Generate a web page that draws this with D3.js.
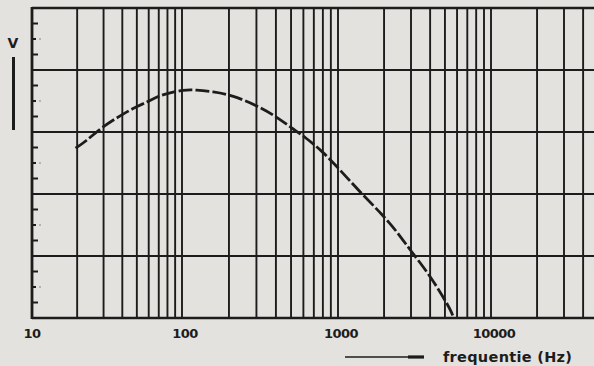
<!DOCTYPE html>
<html>
<head>
<meta charset="utf-8">
<script src="https://cdn.jsdelivr.net/npm/d3@7"></script>
<style>
  html, body { margin: 0; padding: 0; background: #e4e2de; }
  svg { display: block; }
  text { font-family: "DejaVu Sans", sans-serif; font-weight: bold; fill: #1c1c1c; }
</style>
</head>
<body>
<svg id="chart" width="594" height="366"></svg>
<script>
// Frequency response: output voltage against frequency (log axis)
const freqHz = [19.5, 22.6, 29.3, 39.2, 48.6, 58.4, 69.2, 83.2, 101.5, 123, 158, 206, 307, 406, 507, 614, 801, 1030, 1393, 1967, 2466, 2954, 3991, 5392, 5640];
const voltage = [2.74, 2.84, 3.08, 3.27, 3.40, 3.48, 3.58, 3.63, 3.68, 3.68, 3.65, 3.60, 3.42, 3.24, 3.06, 2.92, 2.68, 2.39, 2.03, 1.66, 1.37, 1.10, 0.69, 0.16, 0.03];

const decades = [10, 100, 1000, 10000];
const tickLabels = ["10", "100", "1000", "10000"];
const yRows = [0, 1, 2, 3, 4, 5];

const ink = "#1c1c1c";
const svg = d3.select("#chart");

const plotLeft = 32, plotTop = 8, plotBottom = 318;

// printed log paper: decade widths differ slightly
const x = d3.scaleLog()
  .domain([10, 100, 1000, 10000, 100000])
  .range([plotLeft, 182, 338, 491, 644]);
const y = d3.scaleLinear().domain([0, 5]).range([plotBottom, plotTop]);

// vertical grid: 1..9 in every decade
const gridX = [];
decades.forEach(d => { for (let k = 1; k <= 9; k++) gridX.push(d * k); });
gridX.push(100000);

const grid = svg.append("g");
grid.selectAll("line.v").data(gridX).join("line")
  .attr("x1", d => x(d)).attr("x2", d => x(d))
  .attr("y1", plotTop).attr("y2", plotBottom)
  .attr("stroke", ink).attr("stroke-width", 1.9);

grid.selectAll("line.h").data(yRows).join("line")
  .attr("x1", plotLeft).attr("x2", 594)
  .attr("y1", d => y(d)).attr("y2", d => y(d))
  .attr("stroke", ink).attr("stroke-width", d => (d === 0 || d === 5) ? 2.6 : 2);

// frame left edge
svg.append("line")
  .attr("x1", plotLeft).attr("x2", plotLeft).attr("y1", plotTop - 1).attr("y2", plotBottom + 1)
  .attr("stroke", ink).attr("stroke-width", 2.8);

// minor ticks on the voltage axis
const minor = [];
for (let r = 0; r < 5; r++) { minor.push(r + 0.25, r + 0.5, r + 0.75); }
svg.append("g").selectAll("line").data(minor).join("line")
  .attr("x1", plotLeft).attr("x2", d => (d % 1 === 0.5) ? plotLeft + 4 : plotLeft + 6)
  .attr("y1", d => y(d)).attr("y2", d => y(d))
  .attr("stroke", ink).attr("stroke-width", 2);
svg.append("g").selectAll("circle").data(minor.filter(d => d % 1 === 0.5)).join("circle")
  .attr("cx", plotLeft + 8).attr("cy", d => y(d)).attr("r", 0.8)
  .attr("fill", "#777");

// frequency labels
svg.append("g").selectAll("text").data(decades).join("text")
  .attr("x", (d, i) => x(d) + (i === 0 ? 0 : 3))
  .attr("y", 338)
  .attr("text-anchor", "middle")
  .attr("font-size", 13)
  .attr("letter-spacing", -0.5)
  .text((d, i) => tickLabels[i]);

// response curve
const line = d3.line()
  .x((d, i) => x(freqHz[i]))
  .y((d, i) => y(voltage[i]))
  .curve(d3.curveBasis);
svg.append("path")
  .datum(freqHz)
  .attr("d", line)
  .attr("fill", "none")
  .attr("stroke", ink)
  .attr("stroke-width", 2.8)
  .attr("stroke-dasharray", "14,3");

// voltage axis title with bar
svg.append("text").attr("x", 13).attr("y", 48)
  .attr("text-anchor", "middle").attr("font-size", 14).text("V");
svg.append("rect").attr("x", 12).attr("y", 57).attr("width", 3).attr("height", 73).attr("fill", ink);

// frequency axis title with arrow
svg.append("line").attr("x1", 345).attr("x2", 424).attr("y1", 357).attr("y2", 357)
  .attr("stroke", ink).attr("stroke-width", 1.6);
svg.append("line").attr("x1", 408).attr("x2", 424).attr("y1", 357).attr("y2", 357)
  .attr("stroke", ink).attr("stroke-width", 3.2);
svg.append("text").attr("x", 443).attr("y", 362)
  .attr("font-size", 14.5).attr("letter-spacing", 0.3).text("frequentie (Hz)");
</script>
</body>
</html>
